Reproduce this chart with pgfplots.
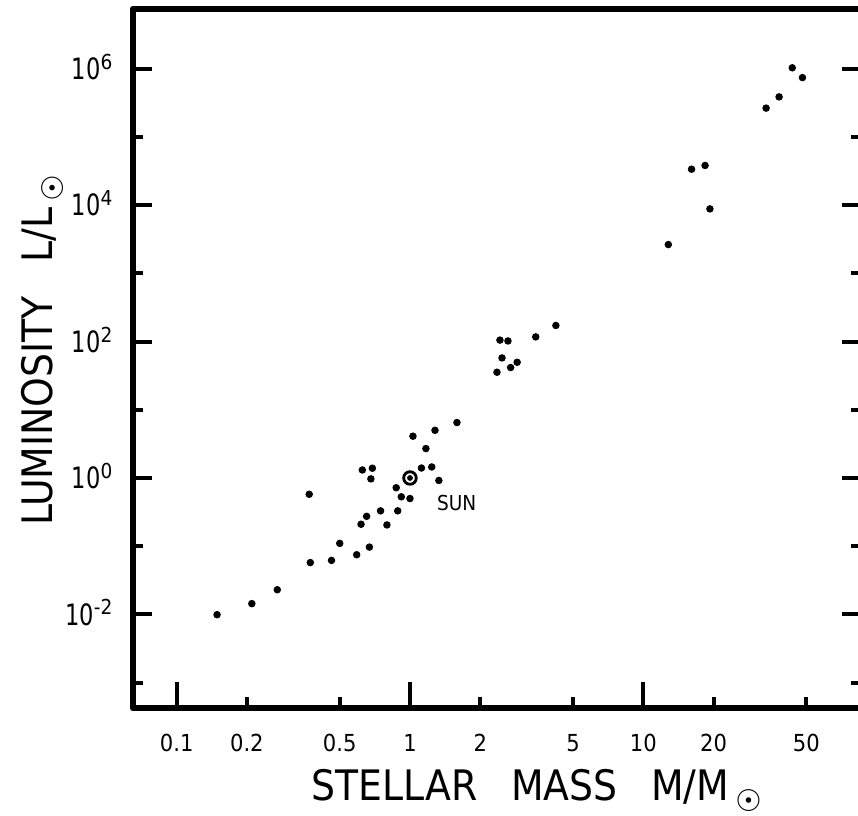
\documentclass[border=0pt]{standalone}
\usepackage{fontspec}
\setmainfont{DejaVu Sans Condensed}
\newfontfamily\symfont{DejaVu Sans}
\usepackage{graphicx}
\usepackage{pgfplots}
\pgfplotsset{compat=1.18}
\newcommand\sunsub[1]{\hspace{0.15em}\raisebox{#1}{\symfont\fontsize{10.5}{11}\selectfont ☉}}
\newcommand\tenp[1]{\scalebox{0.85}[1]{10}\textsuperscript{#1}}
\begin{document}
\begin{tikzpicture}
% short x ticks (0.2, 0.5, 2, 5, 20, 50) on a linear overlay in log10(M)
\begin{axis}[
  scale only axis,
  width=254.8pt, height=244.65pt,
  xmin=-1.18709, xmax=1.93298,
  ymin=0, ymax=1,
  axis line style={white, line width=0.2pt},
  tick style={line width=1.4pt, black},
  tick align=inside,
  xticklabel style={font=\fontsize{8.2}{9}\selectfont, anchor=base, yshift=-15.4pt},
  xtick pos=bottom,
  ytick=\empty,
  major tick length=3.9pt,
  xtick={-0.69897,-0.30103,0.30103,0.69897,1.30103,1.69897},
  xticklabels={0.2,0.5,2,5,20,50},
]
\end{axis}
% main axis
\begin{axis}[
  xmode=log, ymode=log,
  scale only axis,
  width=254.8pt, height=244.65pt,
  xmin=0.0650, xmax=85.7,
  ymin=4.25e-4, ymax=7.5e6,
  tick style={line width=1.4pt, black},
  tick align=inside,
  xticklabel style={font=\fontsize{8.2}{9}\selectfont, anchor=base, yshift=-15.4pt},
  axis line style={line width=2.4pt, line cap=round, line join=round},
  xtick pos=bottom, ytick pos=both,
  major tick length=9.1pt,
  minor tick length=3.5pt,
  xtick={0.1,1,10},
  xticklabels={0.1,1,10},
  minor x tick style={draw=none},
  ytick={1e9},
  extra y ticks={1e-2,1,1e2,1e4,1e6},
  extra y tick labels={\tenp{-2},\tenp{0},\tenp{2},\tenp{4},\tenp{6}},
  extra y tick style={log identify minor tick positions=false, major tick length=6.7pt},
  minor ytick={1e-3,1e-1,1e1,1e3,1e5},
  yticklabel style={font=\fontsize{10.3}{12}\selectfont, anchor=base east, yshift=-3.8pt, xshift=-3.2pt},
  xlabel={STELLAR\hspace{0.8em}MASS\hspace{0.8em}M/M\sunsub{-3.6pt}},
  ylabel={LUMINOSITY\hspace{0.8em}L/L\sunsub{-4.0pt}},
  label style={font=\fontsize{14.7}{17}\selectfont},
  xlabel style={at={(axis description cs:0.555,-0.133)}, anchor=base},
  ylabel style={at={(axis description cs:-0.111,0.512)}, anchor=base},
  clip=false,
]
\addplot[only marks, mark=*, mark size=1.1pt, black] coordinates {
(0.149,0.0099) (0.21,0.0144) (0.27,0.023) (0.374,0.0575) (0.37,0.577)
(0.461,0.062) (0.50,0.110) (0.591,0.075) (0.617,0.21) (0.652,0.274)
(0.67,0.097) (0.625,1.31) (0.69,1.39) (0.68,0.97) (0.748,0.33)
(0.797,0.205) (0.873,0.72) (0.886,0.33) (0.918,0.53) (1.0,0.50)
(1.03,4.1) (1.12,1.40) (1.17,2.7) (1.24,1.45) (1.28,5.0)
(1.33,0.92) (1.59,6.5) (2.36,35.5) (2.43,105) (2.48,57.5)
(2.63,102) (2.70,41.6) (2.88,49.7) (3.46,117) (4.22,172)
(12.8,2640) (16.1,33600) (18.4,38100) (19.3,8800) (33.6,264000)
(38.2,386000) (43.5,1030000) (48.1,740000)
};
\addplot[only marks, mark=o, mark size=2.2pt, mark options={line width=1pt}, black] coordinates {(1.0,1.0)};
\addplot[only marks, mark=*, mark size=0.8pt, black] coordinates {(1.0,1.0)};
\node[anchor=west, font=\fontsize{7.2}{8}\selectfont, inner sep=0pt] at (axis cs:1.30,0.425) {SUN};
\end{axis}
\pgfresetboundingbox
\path[use as bounding box] (-46.55pt,-37.8pt) rectangle (253.75pt,247.8pt);
\end{tikzpicture}
\end{document}
